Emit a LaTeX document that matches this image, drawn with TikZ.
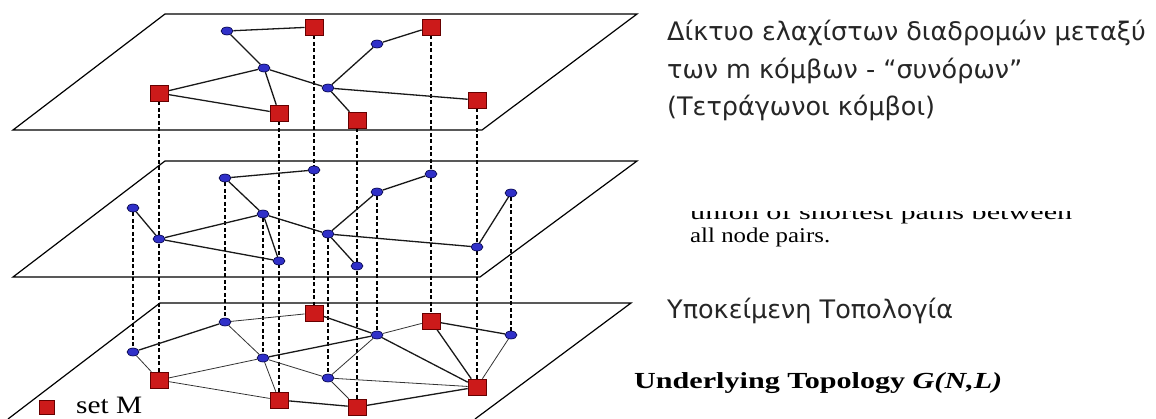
\documentclass[tikz,border=0pt]{standalone}
\usepackage{fontspec}
\setmainfont{Liberation Serif}
\newfontfamily\grk{DejaVu Sans}
\usetikzlibrary{shapes.geometric}
\pgfdeclarelayer{bg}
\pgfsetlayers{bg,main}
\definecolor{nblue}{RGB}{48,48,200}
\definecolor{nred}{RGB}{204,26,26}
\begin{document}
\begin{tikzpicture}[x=1pt,y=-1pt,
  plane/.style={line width=1.2pt, line join=miter},
  bnode/.style={ellipse, draw=blue!25!black, fill=nblue, minimum width=12pt, minimum height=8pt, inner sep=0pt, line width=0.6pt},
  rnode/.style={rectangle, draw=red!40!black, fill=nred, minimum width=18pt, minimum height=16pt, inner sep=0pt, line width=0.6pt},
  link/.style={line width=1.3pt, black!90},
  tlink/.style={line width=0.8pt, black!80},
  proj/.style={line width=1.3pt, dash pattern=on 4pt off 2.5pt},
  grtext/.style={anchor=west, inner sep=0pt, font=\grk\fontsize{25.5}{30}\selectfont, text=black!85},
]
\useasboundingbox (0,0) rectangle (1156,418);
\clip (0,0) rectangle (1156,418);

% planes
\draw[plane] (13,130) -- (165,14) -- (637,14) -- (482,130) -- cycle;
\draw[plane] (13,277) -- (165,161) -- (637,161) -- (480,277) -- cycle;
\draw[plane] (8,419) -- (160,303) -- (631,303) -- (475,419);

% top plane
\node[rnode] (R1) at (314,27) {};
\node[rnode] (R2) at (431,27) {};
\node[rnode] (R3) at (159,93) {};
\node[rnode] (R4) at (279,113) {};
\node[rnode] (R5) at (357,120) {};
\node[rnode] (R6) at (477,100) {};
\node[bnode] (T1) at (227,31) {};
\node[bnode] (T2) at (377,44) {};
\node[bnode] (T3) at (264,68) {};
\node[bnode] (T4) at (328,88) {};

% middle plane
\node[bnode] (M1) at (225,178) {};
\node[bnode] (M2) at (314,170) {};
\node[bnode] (M3) at (431,174) {};
\node[bnode] (M4) at (377,192) {};
\node[bnode] (M5) at (511,193) {};
\node[bnode] (M6) at (133,208) {};
\node[bnode] (M7) at (263,214) {};
\node[bnode] (M8) at (159,239) {};
\node[bnode] (M9) at (328,234) {};
\node[bnode] (M10) at (477,247) {};
\node[bnode] (M11) at (279,261) {};
\node[bnode] (M12) at (357,266) {};

% bottom plane
\node[bnode] (B1) at (225,322) {};
\node[rnode] (B2) at (314,313) {};
\node[rnode] (B3) at (431,321) {};
\node[bnode] (B4) at (377,335) {};
\node[bnode] (B5) at (511,335) {};
\node[bnode] (B6) at (133,352) {};
\node[bnode] (B7) at (263,358) {};
\node[rnode] (B8) at (159,380) {};
\node[bnode] (B9) at (328,378) {};
\node[rnode] (B10) at (477,387) {};
\node[rnode] (B11) at (279,400) {};
\node[rnode] (B12) at (357,407) {};

\begin{pgfonlayer}{bg}
% projections
\draw[proj] (R3) -- (B8);
\draw[proj] (R4) -- (B11);
\draw[proj] (R1) -- (B2);
\draw[proj] (R5) -- (B12);
\draw[proj] (R2) -- (B3);
\draw[proj] (R6) -- (B10);
\draw[proj] (M1) -- (B1);
\draw[proj] (M6) -- (B6);
\draw[proj] (M7) -- (B7);
\draw[proj] (M4) -- (B4);
\draw[proj] (M5) -- (B5);
\draw[proj] (M9) -- (B9);
% top edges
\draw[link] (T1) -- (R1);
\draw[link] (T1) -- (T3);
\draw[link] (T3) -- (R3);
\draw[link] (R3) -- (R4);
\draw[link] (T3) -- (R4);
\draw[link] (T3) -- (T4);
\draw[link] (T4) -- (T2);
\draw[link] (T2) -- (R2);
\draw[link] (T4) -- (R5);
\draw[link] (T4) -- (R6);
% middle edges
\draw[link] (M1) -- (M2);
\draw[link] (M1) -- (M7);
\draw[link] (M7) -- (M8);
\draw[link] (M6) -- (M8);
\draw[link] (M8) -- (M11);
\draw[link] (M7) -- (M11);
\draw[link] (M7) -- (M9);
\draw[link] (M9) -- (M4);
\draw[link] (M4) -- (M3);
\draw[link] (M9) -- (M12);
\draw[link] (M9) -- (M10);
\draw[link] (M10) -- (M5);
% bottom edges
\draw[link] (B6) -- (B1);
\draw[tlink] (B1) -- (B2);
\draw[link] (B2) -- (B4);
\draw[tlink] (B4) -- (B3);
\draw[link] (B3) -- (B5);
\draw[tlink] (B6) -- (B8);
\draw[tlink] (B8) -- (B7);
\draw[link] (B7) -- (B4);
\draw[tlink] (B1) -- (B7);
\draw[tlink] (B7) -- (B11);
\draw[tlink] (B7) -- (B9);
\draw[tlink] (B8) -- (B11);
\draw[link] (B11) -- (B12);
\draw[tlink] (B9) -- (B12);
\draw[tlink] (B9) -- (B4);
\draw[tlink] (B9) -- (B10);
\draw[link] (B4) -- (B10);
\draw[link] (B3) -- (B10);
\draw[tlink] (B5) -- (B10);
\draw[link] (B12) -- (B10);
\end{pgfonlayer}

% texts
\node[grtext] (g1) at (667,33) {Δίκτυο ελαχίστων διαδρομών μεταξύ};
\node[grtext] (g2) at (667,71) {των m κόμβων - “συνόρων”};
\node[grtext] (g3) at (667,108) {(Τετράγωνοι κόμβοι)};
\node[grtext] (g4) at (667,311) {Υποκείμενη Τοπολογία};

\begin{scope}
\clip (680,211) rectangle (1100,260);
\node[anchor=base west, inner sep=0pt] (u1) at (690,219) {\resizebox{382pt}{\height}{\fontsize{21}{24}\selectfont union of shortest paths between}};
\end{scope}
\node[anchor=base west, inner sep=0pt] (u2) at (690,242) {\resizebox{140pt}{\height}{\fontsize{21}{24}\selectfont all node pairs.}};

\node[anchor=west, inner sep=0pt] (ut) at (634,383) {\resizebox{368pt}{\height}{\fontsize{23}{26}\selectfont\bfseries Underlying Topology \textit{G(N,L)}}};

\node[rnode, minimum width=15pt, minimum height=14pt] (leg) at (47,407) {};
\node[anchor=west, inner sep=0pt] (legt) at (76,405) {\resizebox{66pt}{\height}{\fontsize{25}{28}\selectfont set M}};
\end{tikzpicture}
\end{document}
